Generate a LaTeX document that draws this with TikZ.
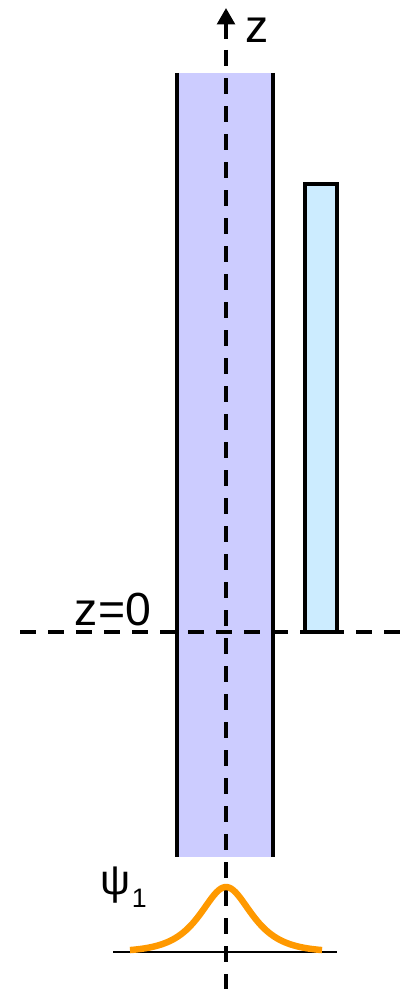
\documentclass[tikz,border=0pt]{standalone}
\usepackage{fontspec}
\setmainfont{Liberation Sans}
\usetikzlibrary{arrows.meta}
\definecolor{corefill}{RGB}{204,204,255}
\definecolor{stripfill}{RGB}{204,236,255}
\definecolor{modeline}{RGB}{255,153,0}

\begin{document}
\begin{tikzpicture}[x=0.25mm,y=-0.25mm,
  axis/.style={line width=2.6pt,dash pattern=on 4.1mm off 2.9mm},
  edge/.style={line width=2.4pt},
  lab/.style={inner sep=0pt,font=\fontsize{33}{36}\selectfont}]
\useasboundingbox (0,0) rectangle (402,989);
% guide (core)
\fill[corefill] (177,73) rectangle (273,857);
\draw[edge] (177,73) -- (177,857) (273,73) -- (273,857);
% side strip
\draw[edge,fill=stripfill] (305,184) rectangle (337,632);
% axes
\coordinate (axbot) at (226,989);
\coordinate (axdash) at (226,50);
\coordinate (axshaft) at (226,39);
\coordinate (axtop) at (226,8);
\coordinate (zl) at (20,632);
\coordinate (zr) at (402,632);
\draw[axis] (zl) -- (zr);
\draw[axis] (axdash) -- (axbot);
\draw[line width=2.6pt,-{Triangle[length=4.1mm,width=4.4mm]}] (axshaft) -- (axtop);
% mode profile
\coordinate (bl) at (113,952);
\coordinate (br) at (337,952);
\draw[line width=1.9pt] (bl) -- (br);
\draw[modeline,line width=4.6pt] plot[domain=-96:96,samples=90,smooth] ({226+\x},{952-65/cosh(\x/22.8)});
% labels
\node[lab] (zlab) at (257,30) {z};
\node[lab] (zerolab) at (113,610) {z=0};
\node[inner sep=0pt,anchor=base west,font=\fontsize{30}{34}\selectfont] (psilab) at (100,894)
  {ψ\hspace{0.4mm}\raisebox{-3.4mm}{\fontsize{19}{20}\selectfont 1}};
\end{tikzpicture}
\end{document}
